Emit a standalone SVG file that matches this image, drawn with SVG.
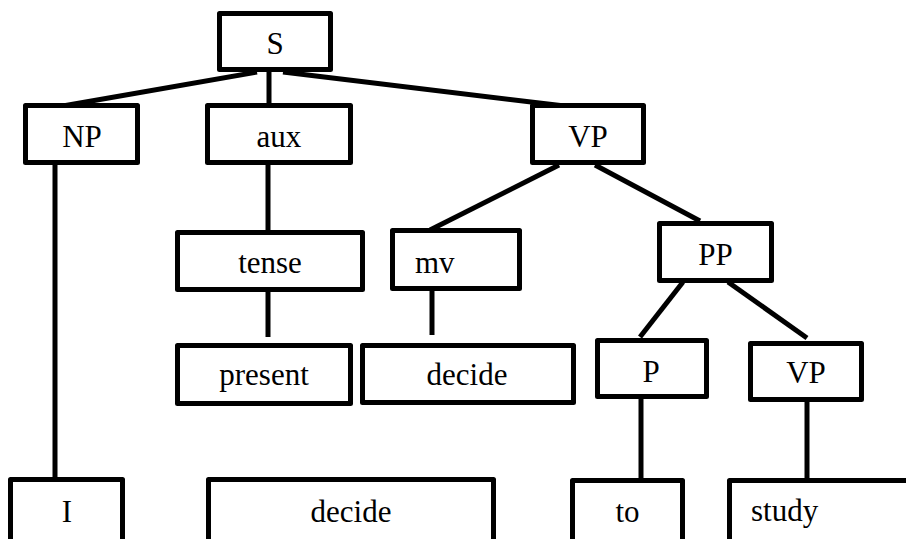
<svg xmlns="http://www.w3.org/2000/svg" width="906" height="539" viewBox="0 0 906 539">
  <style>
    .box { fill: #ffffff; stroke: #000000; stroke-width: 5; stroke-linejoin: round; }
    .edge { stroke: #000000; stroke-width: 5; fill: none; }
    .lbl { font-family: "Liberation Serif", "Times New Roman", serif; font-size: 31px; fill: #000000; }
    .c { text-anchor: middle; }
  </style>
  <rect width="906" height="539" fill="#ffffff"/>

  <!-- tree branches -->
  <g id="connectors">
    <line class="edge" x1="257" y1="72" x2="57" y2="107"/>
    <line class="edge" x1="269" y1="72" x2="269" y2="103"/>
    <line class="edge" x1="283" y1="72" x2="573" y2="107"/>
    <line class="edge" x1="55" y1="165" x2="55" y2="482"/>
    <line class="edge" x1="268" y1="165" x2="268" y2="230"/>
    <line class="edge" x1="559" y1="165" x2="430" y2="230"/>
    <line class="edge" x1="595" y1="165" x2="700" y2="221"/>
    <line class="edge" x1="268" y1="292" x2="268" y2="337"/>
    <line class="edge" x1="432" y1="291" x2="432" y2="335"/>
    <line class="edge" x1="683" y1="282" x2="640" y2="337"/>
    <line class="edge" x1="728" y1="282" x2="807" y2="338"/>
    <line class="edge" x1="641" y1="399" x2="641" y2="483"/>
    <line class="edge" x1="807" y1="395" x2="807" y2="478"/>
  </g>

  <g id="node-S">
    <rect class="box" x="219.5" y="13.5" width="111" height="56"/>
    <text class="lbl c" x="275" y="54">S</text>
  </g>
  <g id="node-NP">
    <rect class="box" x="25.5" y="105.5" width="112" height="57"/>
    <text class="lbl c" x="82" y="147">NP</text>
  </g>
  <g id="node-aux">
    <rect class="box" x="207.5" y="105.5" width="143" height="57"/>
    <text class="lbl c" x="279" y="147">aux</text>
  </g>
  <g id="node-VP">
    <rect class="box" x="532.5" y="105.5" width="111" height="57"/>
    <text class="lbl c" x="588" y="147">VP</text>
  </g>
  <g id="node-tense">
    <rect class="box" x="177.5" y="232.5" width="185" height="57"/>
    <text class="lbl c" x="270" y="273">tense</text>
  </g>
  <g id="node-mv">
    <rect class="box" x="392.5" y="230.5" width="127" height="58"/>
    <text class="lbl" x="415" y="273">mv</text>
  </g>
  <g id="node-PP">
    <rect class="box" x="659.5" y="223.5" width="112" height="57"/>
    <text class="lbl c" x="715.5" y="265">PP</text>
  </g>
  <g id="node-present">
    <rect class="box" x="177.5" y="345.5" width="173" height="58"/>
    <text class="lbl c" x="264" y="385">present</text>
  </g>
  <g id="node-decide-mv">
    <rect class="box" x="362.5" y="345.5" width="211" height="57"/>
    <text class="lbl c" x="467" y="385">decide</text>
  </g>
  <g id="node-P">
    <rect class="box" x="597.5" y="340.5" width="109" height="56"/>
    <text class="lbl c" x="651" y="382">P</text>
  </g>
  <g id="node-VP2">
    <rect class="box" x="750.5" y="343.5" width="111" height="56"/>
    <text class="lbl c" x="806" y="383">VP</text>
  </g>
  <g id="node-I">
    <rect class="box" x="10.5" y="479.5" width="112" height="80"/>
    <text class="lbl c" x="67" y="522">I</text>
  </g>
  <g id="node-decide">
    <rect class="box" x="208.5" y="479.5" width="285" height="80"/>
    <text class="lbl c" x="351" y="522">decide</text>
  </g>
  <g id="node-to">
    <rect class="box" x="572.5" y="480.5" width="110" height="80"/>
    <text class="lbl c" x="627.5" y="522">to</text>
  </g>
  <g id="node-study">
    <rect class="box" x="729.5" y="480.5" width="200" height="80"/>
    <text class="lbl" x="751" y="521">study</text>
  </g>
</svg>
